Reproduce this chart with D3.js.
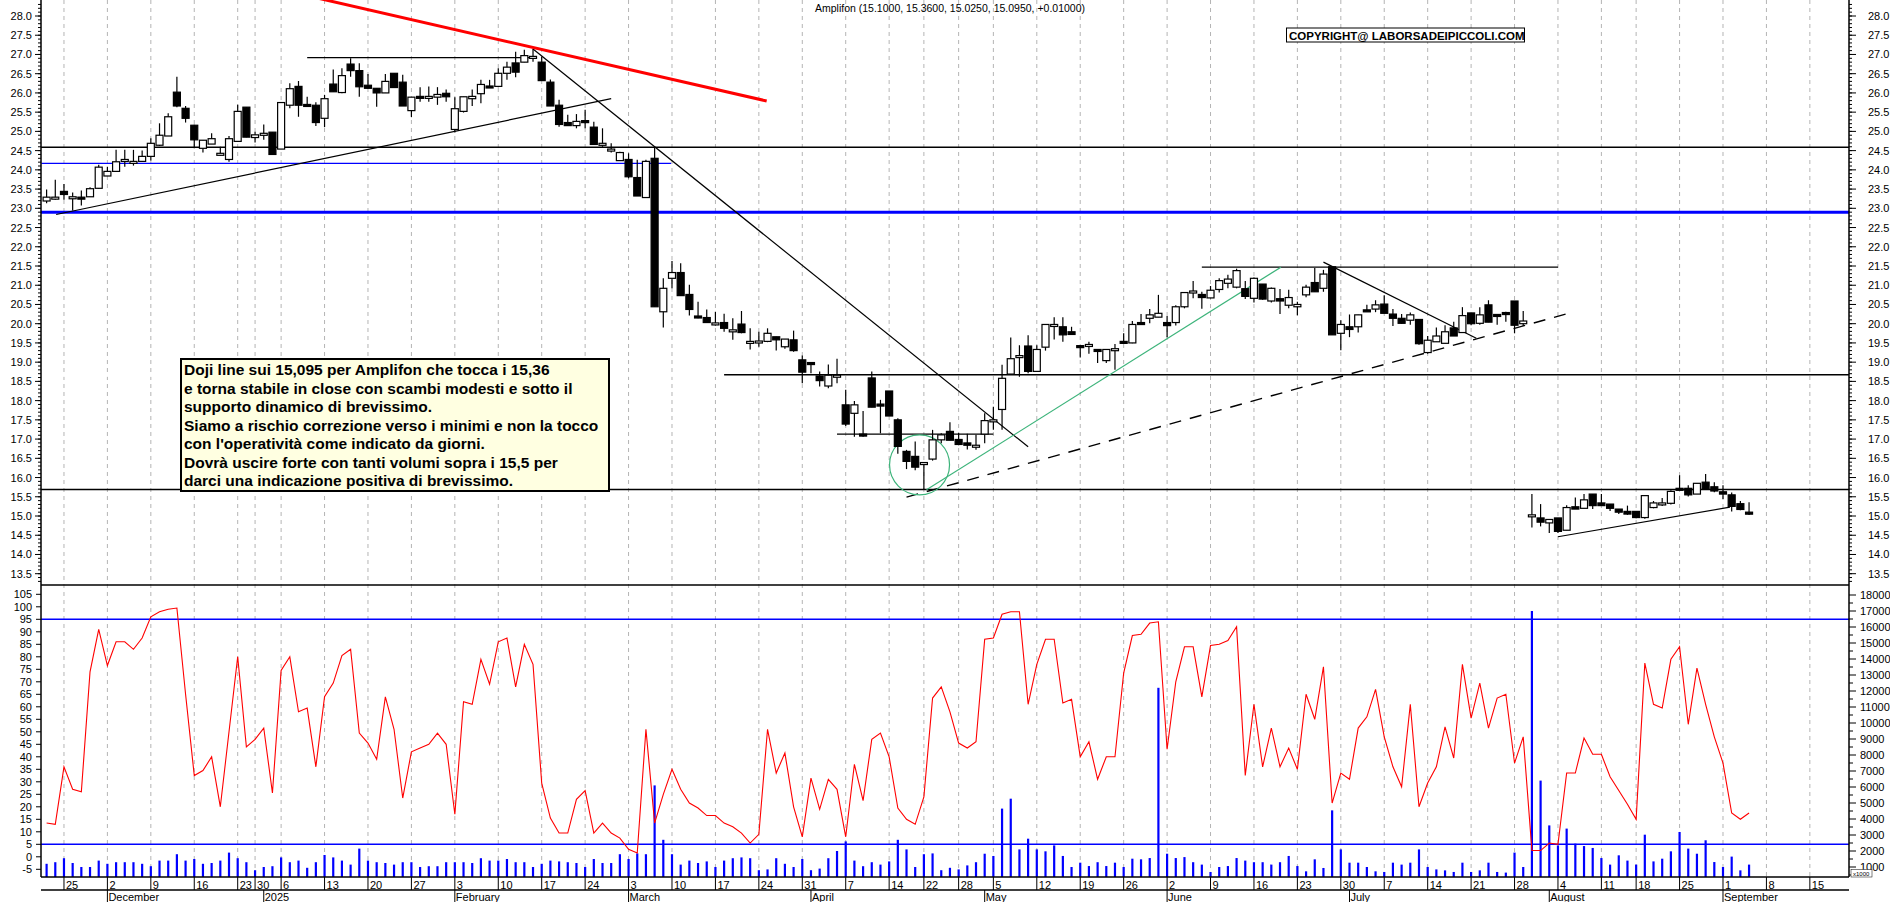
<!DOCTYPE html>
<html>
<head>
<meta charset="utf-8">
<script src="https://cdn.jsdelivr.net/npm/d3@7/dist/d3.min.js"></script>
<style>
  body { margin: 0; background: #fff; }
  svg { display: block; font-family: "Liberation Sans", Arial, sans-serif; }
</style>
</head>
<body>
<svg id="chart" width="1890" height="902"></svg>
<script>
// --- data ---
var startDate = "2024-11-21";
var holidays = ["2024-12-24","2024-12-25","2024-12-26","2024-12-31","2025-01-01",
                "2025-04-18","2025-04-21","2025-05-01","2025-08-15"];
var monthNames = ["2025","February","March","April","May","June","July","August","September","October","November","December"];

var opens = [23.19,23.28,23.44,23.30,23.29,23.30,23.52,23.84,23.96,24.26,24.18,24.22,24.35,24.64,24.88,26.02,25.60,25.16,24.56,24.67,
  24.43,24.27,24.74,25.63,24.84,24.90,24.98,24.54,25.68,26.17,25.70,25.68,25.34,26.23,26.01,26.75,26.58,26.20,26.12,26.00,
  26.51,26.28,25.54,25.91,25.91,25.89,25.99,25.05,25.52,25.85,25.98,26.18,26.17,26.51,26.78,26.80,26.94,26.80,26.28,25.68,
  25.23,25.15,25.28,25.11,24.64,24.54,24.24,24.27,23.80,23.28,24.30,20.31,21.18,21.33,20.76,20.20,20.16,20.02,20.03,19.80,
  19.99,19.54,19.54,19.54,19.66,19.40,19.58,19.06,18.99,18.64,18.38,18.66,17.89,17.67,17.13,18.59,17.91,18.25,17.50,16.68,
  16.55,16.35,16.48,16.98,17.20,16.99,16.90,16.84,17.13,17.45,17.77,18.69,19.14,19.42,18.76,19.39,19.98,19.92,19.79,19.43,
  19.41,19.33,19.04,19.35,19.54,19.50,20.03,20.14,20.17,20.03,20.03,20.44,20.85,20.76,20.67,20.89,21.05,20.95,20.91,20.66,
  21.03,20.59,20.65,20.48,20.44,20.75,21.07,20.92,21.48,19.75,19.92,19.92,20.36,20.38,20.51,20.25,20.14,20.09,20.11,19.25,
  19.53,19.49,19.89,19.77,20.28,20.01,20.49,20.24,20.29,20.59,20.00,15.03,14.95,14.82,14.95,14.63,15.24,15.20,15.57,15.34,
  15.31,15.18,15.12,15.12,14.96,15.22,15.30,15.33,15.72,15.72,15.57,15.88,15.76,15.63,15.55,15.32,15.10];
var highs = [23.49,23.74,23.63,23.41,23.46,23.55,24.13,24.08,24.52,24.52,24.52,24.50,24.82,25.21,25.47,26.42,25.66,25.17,24.77,24.95,
  24.60,24.88,25.69,25.63,24.99,25.18,24.98,25.75,26.25,26.31,25.90,25.76,25.95,26.61,26.64,26.90,26.77,26.49,26.12,26.49,
  26.51,26.47,25.89,26.15,26.17,26.15,26.09,25.89,25.90,26.09,26.34,26.34,26.64,26.81,27.07,27.12,27.14,26.94,26.35,25.82,
  25.43,25.45,25.56,25.25,25.08,24.69,24.47,24.43,24.26,24.26,24.60,21.18,21.63,21.57,21.01,20.57,20.37,20.31,20.26,20.14,
  20.33,19.88,19.79,19.88,19.66,19.60,19.82,19.17,18.99,18.76,18.94,19.09,18.28,17.99,17.73,18.76,18.02,18.25,17.54,16.72,
  16.94,16.39,17.24,17.15,17.44,17.16,17.14,17.11,17.67,17.84,18.93,19.64,19.44,19.70,19.44,19.98,20.17,20.17,19.92,19.43,
  19.53,19.33,19.33,19.47,19.75,20.07,20.25,20.38,20.75,20.20,20.48,20.81,21.11,20.83,20.98,21.18,21.27,21.43,21.11,21.20,
  21.03,20.94,20.90,20.88,20.57,21.01,21.45,21.40,21.50,20.09,20.24,20.23,20.49,20.61,20.74,20.38,20.25,20.29,20.11,19.68,
  19.90,19.96,20.05,20.43,20.28,20.43,20.61,20.24,20.31,20.59,20.33,15.57,15.31,14.91,14.95,15.28,15.48,15.57,15.57,15.57,
  15.31,15.18,15.27,15.12,15.53,15.39,15.47,15.67,16.06,15.80,15.85,16.09,15.88,15.80,15.61,15.39,15.36];
var lows = [23.13,23.22,23.22,22.94,23.07,23.30,23.51,23.84,23.96,24.08,24.11,24.22,24.24,24.62,24.88,25.63,25.23,24.56,24.45,24.67,
  24.37,24.21,24.74,24.85,24.71,24.78,24.40,24.54,25.60,25.38,25.66,25.14,25.11,26.03,25.99,26.42,25.90,26.12,25.64,26.00,
  26.14,25.66,25.37,25.77,25.77,25.69,25.77,24.97,25.49,25.66,25.73,26.14,26.15,26.34,26.41,26.80,26.81,26.32,25.66,25.12,
  25.15,25.08,25.08,24.66,24.60,24.45,24.24,23.78,23.33,23.28,20.44,19.90,20.92,20.73,20.21,20.14,20.03,19.95,19.79,19.58,
  19.75,19.33,19.40,19.52,19.30,19.35,19.27,18.45,18.71,18.37,18.32,18.45,17.34,17.06,17.06,17.83,17.15,17.60,16.62,16.22,
  16.19,15.68,16.44,16.89,16.97,16.84,16.73,16.72,16.89,17.24,17.24,18.69,18.62,18.71,18.76,19.30,19.59,19.53,19.72,19.12,
  19.22,18.98,18.98,18.80,19.49,19.49,20.01,20.01,20.17,19.65,19.95,20.40,20.66,20.39,20.66,20.81,20.92,20.92,20.64,20.55,
  20.62,20.55,20.25,20.40,20.22,20.69,20.83,20.83,19.71,19.31,19.65,19.77,20.33,20.30,20.27,19.94,20.00,19.97,19.45,19.22,
  19.53,19.49,19.68,19.77,19.96,19.97,20.04,19.97,20.05,19.75,19.94,14.70,14.73,14.56,14.56,14.63,15.18,15.20,15.18,15.27,
  15.13,15.05,15.03,14.94,14.93,15.20,15.26,15.30,15.67,15.51,15.57,15.70,15.62,15.44,15.12,15.15,15.025];
var closes = [23.29,23.29,23.36,23.30,23.28,23.51,24.07,23.96,24.21,24.27,24.22,24.35,24.69,24.90,25.38,25.66,25.34,24.78,24.77,24.81,
  24.43,24.81,25.52,24.85,24.91,24.95,24.40,25.75,26.11,25.68,25.67,25.23,25.85,26.03,26.45,26.58,26.16,26.12,26.00,26.30,
  26.14,25.66,25.89,25.89,25.91,25.96,25.90,25.59,25.90,25.91,26.22,26.14,26.51,26.67,26.54,26.97,26.95,26.32,25.66,25.18,
  25.15,25.26,25.25,24.66,24.69,24.54,24.45,23.82,23.32,24.22,20.44,20.92,21.33,20.73,20.37,20.19,20.03,20.02,19.88,19.84,
  19.77,19.54,19.55,19.75,19.58,19.60,19.30,18.74,18.98,18.52,18.66,18.66,17.39,17.89,17.12,17.83,17.90,17.60,16.81,16.42,
  16.27,16.39,16.98,17.11,16.97,16.86,16.84,16.84,17.48,17.50,18.58,19.09,19.17,18.76,19.33,19.98,19.98,19.71,19.72,19.40,
  19.46,19.30,19.33,19.35,19.49,19.98,20.01,20.23,20.27,19.95,20.44,20.81,20.85,20.68,20.87,21.12,21.16,21.38,20.71,21.18,
  20.64,20.92,20.59,20.68,20.50,20.95,20.83,21.29,19.71,19.98,19.85,20.23,20.35,20.49,20.27,20.14,20.01,20.23,19.48,19.57,
  19.68,19.79,19.68,20.21,20.00,20.23,20.04,20.20,20.25,19.96,20.07,15.03,14.84,14.91,14.60,15.22,15.18,15.42,15.27,15.27,
  15.20,15.10,15.05,14.96,15.53,15.34,15.34,15.64,15.67,15.55,15.85,15.70,15.65,15.57,15.25,15.17,15.095];

var rsi = [13.5,13,36,27,26,74,91,76.5,86,86,83,87.5,96,98,99,99.5,65,32.5,34.5,40,
  20,50,80,44,47,51.5,25.5,74.5,80,58,59.5,36,64,69.5,80.5,83,49.5,45.5,39,64,
  51,23.5,42,43.5,45,49.5,45,17,62,61,79,69,86,87.5,68,85,77,29.5,15.5,9.5,
  9.5,23,26.5,9.5,13.5,9.5,7.5,3,1.5,51,13.5,25,35,27,21.5,19.5,16.5,16.5,13.5,12,
  9.5,5.5,9,51,33.5,41.5,20,8,31.5,19,31,27,8,37,22.5,47,49.5,40,19.5,15,
  13,24,63.5,68,58,45.5,43.5,46,87,87.5,97,98,98,61,77,87,87,61.5,63,40,
  46,31,40,40,73.5,88.5,89,93.5,94,43,70,84,84,64,84.5,85,86.5,92,32.5,61,
  36,51.5,36,43.5,35,65,55,76,21.5,33.5,31,51.5,56,67,48,36,28,61,20,29.5,
  36,52,39.5,77,55.5,69.5,51.5,63.5,65,37.5,48,2.5,2.5,5.5,5,33.5,33.5,47.5,41,41,
  32,26.5,21,15,77.5,61,59.5,79,84,53,75.5,61,48,37.5,17.5,15,17.5];

// volume in thousands of shares
var volume = [1.2,1.3,1.55,1.25,1.0,1.0,1.4,1.2,1.3,1.3,1.3,1.2,1.05,1.4,1.4,1.8,1.4,1.5,1.2,1.25,
  1.4,1.9,1.55,1.3,0.8,1.0,1.05,1.6,1.3,1.4,0.95,1.3,1.75,1.6,1.4,1.15,2.15,1.4,1.3,1.25,
  1.15,1.3,1.3,1.0,1.05,1.05,1.3,1.3,1.3,1.25,1.55,1.4,1.4,1.5,1.3,1.3,1.0,1.2,1.4,1.35,
  1.3,1.25,1.0,1.5,1.25,1.25,1.8,1.5,1.85,1.8,6.1,2.7,1.8,1.15,1.4,1.25,1.35,1.0,1.4,1.55,
  1.6,1.55,0.8,0.85,1.55,1.2,1.0,1.5,0.8,0.9,1.55,2.0,2.6,1.4,1.05,1.3,1.15,1.35,2.7,2.1,
  1.0,1.8,1.85,0.8,0.95,0.85,1.1,1.3,1.83,1.69,4.65,5.27,2.1,2.77,2.1,1.98,2.35,1.69,1.0,1.27,
  1.06,1.3,1.06,1.27,1.0,1.52,1.48,1.56,12.2,1.83,1.56,1.62,1.3,1.15,0.69,1.0,1.06,1.56,1.4,1.3,
  1.3,1.15,1.3,1.69,1.06,0.73,1.48,0.94,4.54,2.1,1.27,1.27,1.0,0.73,0.69,1.27,1.15,1.27,2.1,1.0,
  0.85,0.79,0.69,1.27,0.69,0.79,1.27,0.69,0.65,1.9,1.0,17.0,6.4,3.6,2.35,3.4,2.46,2.31,2.19,1.56,
  1.15,1.73,1.4,1.15,3.02,1.35,1.52,1.98,3.19,2.15,1.83,2.67,1.31,1.0,1.65,0.79,1.15];

var priceTicks = d3.range(13.5, 28.01, 0.5);
var rsiTicks = d3.range(-5, 106, 5);
var volTicks = d3.range(1000, 18001, 1000);

// drawn studies: [index, price] end points
var levels = [24.59, 22.90, 18.67, 15.69];
var redTrend = [[25.7, 28.75], [82.9, 25.79]];
var studyLines = [
  [[30, 26.92], [56.3, 26.92]],
  [[1.1, 22.84], [65, 25.85]],
  [[56, 27.14], [113, 16.80]],
  [[91, 17.13], [109, 17.13]],
  [[133, 21.47], [174, 21.47]],
  [[147, 21.60], [164.6, 19.62]],
  [[174, 14.46], [193.8, 15.23]]
];
var greenTrend = [[101.3, 15.68], [142.1, 21.47]];
var dashedTrend = [[99, 15.49], [175.7, 20.30]];
var thinBlue = [[-0.6, 24.17], [71.9, 24.17]];
var circleAt = [100.5, 16.33];

var noteLines = [
  "Doji line sui 15,095 per Amplifon che tocca i 15,36",
  "e torna stabile in close con scambi modesti e sotto il",
  "supporto dinamico di brevissimo.",
  "Siamo a rischio correzione verso i minimi e non la tocco",
  "con l'operatività come indicato da giorni.",
  "Dovrà uscire forte con tanti volumi sopra i 15,5 per",
  "darci una indicazione positiva di brevissimo."
];

// --- trading calendar ---
var dates = [];
var d = new Date(startDate + "T12:00:00");
while (dates.length < 212) {
  var dow = d.getDay(), key = d3.timeFormat("%Y-%m-%d")(d);
  if (dow !== 0 && dow !== 6 && holidays.indexOf(key) < 0) dates.push(new Date(d));
  d.setDate(d.getDate() + 1);
}

// --- layout ---
var L = 41, R = 1849, priceBottom = 585, axisTop = 877, axisMid = 890;
var svg = d3.select("#chart");

var x = d3.scaleLinear().domain([0, 203]).range([46.6, 46.6 + 8.686 * 203]);
var y = d3.scaleLinear().domain([28, 13.5]).range([16, 573.7]);
var yr = d3.scaleLinear().domain([85, -5]).range([644.3, 869.3]);
var yv = d3.scaleLinear().domain([0, 18000]).range([883, 595]);

svg.append("defs").append("clipPath").attr("id", "pclip")
  .append("rect").attr("x", L).attr("y", 0).attr("width", R - L).attr("height", priceBottom);
svg.append("defs").append("clipPath").attr("id", "lclip")
  .append("rect").attr("x", L).attr("y", priceBottom).attr("width", R - L).attr("height", axisTop - priceBottom);

// week starts
var weekStarts = [];
for (var i = 1; i < dates.length; i++) {
  if (x(i) > R) break;
  if (d3.timeMonday.floor(dates[i]).getTime() !== d3.timeMonday.floor(dates[i - 1]).getTime()) weekStarts.push(i);
}
var monthStarts = [];
for (var i = 1; i < dates.length; i++) {
  if (x(i) > R) break;
  if (dates[i].getMonth() !== dates[i - 1].getMonth()) monthStarts.push(i);
}

// grid
svg.append("g").selectAll("line").data(weekStarts).join("line")
  .attr("x1", i => x(i)).attr("x2", i => x(i))
  .attr("y1", 0).attr("y2", axisTop)
  .attr("stroke", "#b4b4b4").attr("stroke-dasharray", "4,4").attr("stroke-width", 1);

// --- price panel ---
var pg = svg.append("g").attr("clip-path", "url(#pclip)");
var line = d3.line().x(p => x(p[0])).y(p => y(p[1]));

pg.selectAll(".lvl").data(levels).join("line")
  .attr("x1", L).attr("x2", R)
  .attr("y1", v => y(v)).attr("y2", v => y(v))
  .attr("stroke", (v, k) => k === 1 ? "#0000ff" : "#000")
  .attr("stroke-width", (v, k) => k === 1 ? 3 : 1.5);
// the 18.67 level starts in March
pg.append("rect").attr("x", L).attr("y", y(18.67) - 2).attr("width", x(78) - L).attr("height", 4).attr("fill", "#fff");

pg.append("path").attr("d", line(thinBlue)).attr("stroke", "#0000ff").attr("stroke-width", 1.2).attr("fill", "none");
pg.selectAll(".st").data(studyLines).join("path")
  .attr("d", line).attr("stroke", "#000").attr("stroke-width", 1.2).attr("fill", "none");
pg.append("path").attr("d", line(dashedTrend)).attr("stroke", "#000").attr("stroke-width", 1.4)
  .attr("stroke-dasharray", "12,9").attr("fill", "none");
pg.append("path").attr("d", line(greenTrend)).attr("stroke", "#3cb37a").attr("stroke-width", 1.2).attr("fill", "none");
pg.append("ellipse").attr("cx", x(circleAt[0])).attr("cy", y(circleAt[1])).attr("rx", 30).attr("ry", 30)
  .attr("stroke", "#3cb37a").attr("stroke-width", 1.2).attr("fill", "none");
pg.append("path").attr("d", line(redTrend)).attr("stroke", "#ff0000").attr("stroke-width", 3).attr("fill", "none");

// candles
var candles = pg.selectAll(".c").data(closes).join("g");
candles.append("line")
  .attr("x1", (c, i) => x(i)).attr("x2", (c, i) => x(i))
  .attr("y1", (c, i) => y(highs[i])).attr("y2", (c, i) => y(lows[i]))
  .attr("stroke", "#000").attr("stroke-width", 1.2);
candles.append("rect")
  .attr("x", (c, i) => x(i) - 3.5).attr("width", 7)
  .attr("y", (c, i) => y(Math.max(opens[i], c)))
  .attr("height", (c, i) => Math.max(2, Math.abs(y(opens[i]) - y(c))))
  .attr("fill", (c, i) => c >= opens[i] ? "#fff" : "#000")
  .attr("stroke", "#000").attr("stroke-width", 1.2);

// note box
var nb = svg.append("g");
nb.append("rect").attr("x", 181).attr("y", 359).attr("width", 428).attr("height", 132)
  .attr("fill", "#ffffe1").attr("stroke", "#000").attr("stroke-width", 2);
nb.selectAll("text").data(noteLines).join("text")
  .attr("x", 184).attr("y", (t, k) => 375 + k * 18.5)
  .attr("font-size", 15.5).attr("font-weight", "bold").attr("fill", "#000")
  .text(t => t);

// title + copyright
svg.append("text").attr("x", 815).attr("y", 12).attr("font-size", 10.5).attr("fill", "#000")
  .text("Amplifon (15.1000, 15.3600, 15.0250, 15.0950, +0.01000)");
svg.append("rect").attr("x", 1286.5).attr("y", 28).attr("width", 238).attr("height", 14)
  .attr("fill", "#fff").attr("stroke", "#000");
svg.append("text").attr("x", 1289).attr("y", 39.5).attr("font-size", 11.5).attr("font-weight", "bold")
  .text("COPYRIGHT@ LABORSADEIPICCOLI.COM");

// --- lower panel: volume + rsi ---
var lg = svg.append("g").attr("clip-path", "url(#lclip)");
lg.selectAll(".v").data(volume).join("line")
  .attr("x1", (v, i) => x(i)).attr("x2", (v, i) => x(i))
  .attr("y1", axisTop).attr("y2", v => yv(v * 1000))
  .attr("stroke", "#0000ff").attr("stroke-width", 2.2);
lg.selectAll(".rl").data([95, 5]).join("line")
  .attr("x1", L).attr("x2", R).attr("y1", v => yr(v)).attr("y2", v => yr(v))
  .attr("stroke", "#0000ff").attr("stroke-width", 1.5);
lg.append("path").datum(rsi)
  .attr("d", d3.line().x((v, i) => x(i)).y(v => yr(v)))
  .attr("stroke", "#ff0000").attr("stroke-width", 1.1).attr("fill", "none");

// --- frame & axes ---
svg.append("line").attr("x1", L).attr("x2", L).attr("y1", 0).attr("y2", axisTop).attr("stroke", "#000").attr("stroke-width", 1.5);
svg.append("line").attr("x1", R).attr("x2", R).attr("y1", 0).attr("y2", axisTop).attr("stroke", "#000").attr("stroke-width", 1.5);
svg.append("line").attr("x1", L).attr("x2", R).attr("y1", priceBottom).attr("y2", priceBottom).attr("stroke", "#000").attr("stroke-width", 1.5);
svg.append("line").attr("x1", L).attr("x2", R).attr("y1", axisTop).attr("y2", axisTop).attr("stroke", "#000").attr("stroke-width", 1.5);
svg.append("line").attr("x1", L).attr("x2", R).attr("y1", axisMid).attr("y2", axisMid).attr("stroke", "#000").attr("stroke-width", 1.5);

var minor = d3.range(13.3, 28.45, 0.1).filter(v => y(v) > 1 && y(v) < priceBottom - 2);
svg.append("g").selectAll("line").data(minor).join("line")
  .attr("x1", L - 3).attr("x2", L).attr("y1", v => y(v)).attr("y2", v => y(v)).attr("stroke", "#000");
svg.append("g").selectAll("line").data(minor).join("line")
  .attr("x1", R).attr("x2", R + 3).attr("y1", v => y(v)).attr("y2", v => y(v)).attr("stroke", "#000");
svg.append("g").selectAll("line").data(priceTicks).join("line")
  .attr("x1", R).attr("x2", R + 7).attr("y1", v => y(v)).attr("y2", v => y(v)).attr("stroke", "#000");
svg.append("g").selectAll("line").data(priceTicks).join("line")
  .attr("x1", L - 6).attr("x2", L).attr("y1", v => y(v)).attr("y2", v => y(v)).attr("stroke", "#000");

var f1 = d3.format(".1f");
svg.append("g").selectAll("text").data(priceTicks).join("text")
  .attr("x", 32).attr("y", v => y(v) + 4).attr("text-anchor", "end").attr("font-size", 11).text(f1);
svg.append("g").selectAll("text").data(priceTicks).join("text")
  .attr("x", 1868).attr("y", v => y(v) + 4).attr("font-size", 11).text(f1);

svg.append("g").selectAll("line").data(rsiTicks).join("line")
  .attr("x1", L - 5).attr("x2", L).attr("y1", v => yr(v)).attr("y2", v => yr(v)).attr("stroke", "#000");
svg.append("g").selectAll("text").data(rsiTicks).join("text")
  .attr("x", 32).attr("y", v => yr(v) + 4).attr("text-anchor", "end").attr("font-size", 11).text(v => v);

var volMinor = d3.range(500, 18001, 500);
svg.append("g").selectAll("line").data(volMinor).join("line")
  .attr("x1", R).attr("x2", v => v % 1000 === 0 ? R + 7 : R + 4)
  .attr("y1", v => yv(v)).attr("y2", v => yv(v)).attr("stroke", "#000");
svg.append("g").selectAll("text").data(volTicks).join("text")
  .attr("x", 1860).attr("y", v => yv(v) + 3.5).attr("font-size", 11).text(v => v);
svg.append("rect").attr("x", 1851).attr("y", 869.5).attr("width", 21).attr("height", 7.5).attr("fill", "#fff").attr("stroke", "#000").attr("stroke-width", 0.5);
svg.append("text").attr("x", 1853).attr("y", 875.5).attr("font-size", 6).text("x1000");

// date axis
svg.append("g").selectAll("text").data(weekStarts).join("text")
  .attr("x", i => x(i) + 2).attr("y", 888.5).attr("font-size", 11)
  .text(i => dates[i].getDate());
svg.append("g").selectAll("line").data(weekStarts).join("line")
  .attr("x1", i => x(i)).attr("x2", i => x(i)).attr("y1", axisTop).attr("y2", axisMid).attr("stroke", "#000");
svg.append("g").selectAll("line").data(monthStarts).join("line")
  .attr("x1", i => x(i)).attr("x2", i => x(i)).attr("y1", axisMid).attr("y2", 902).attr("stroke", "#000");
svg.append("g").selectAll("text").data(monthStarts).join("text")
  .attr("x", i => x(i) + 1).attr("y", 901).attr("font-size", 11)
  .text(i => {
    var m = dates[i].getMonth();
    return m === 0 ? "2025" : monthNames[m];
  });
</script>
</body>
</html>
